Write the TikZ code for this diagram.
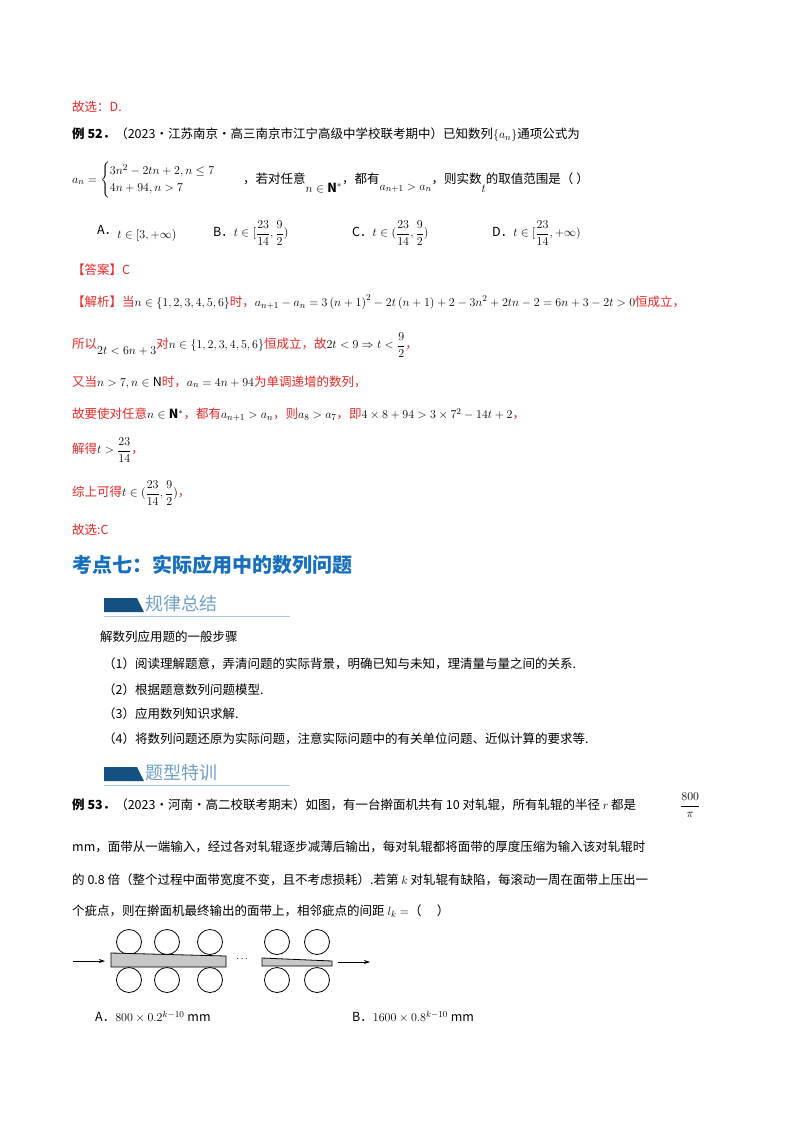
\documentclass[tikz,border=0pt]{standalone}
\usepackage{amsmath}
\usepackage{fontspec}
\usetikzlibrary{arrows.meta}
\setmainfont{Noto Sans CJK SC}
\definecolor{rd}{RGB}{232,40,40}
\definecolor{hb}{RGB}{22,110,190}
\definecolor{bd}{RGB}{20,80,130}
\definecolor{bl}{RGB}{110,160,200}
\newcommand{\R}[1]{\textcolor{rd}{#1}}
\begin{document}
\begin{tikzpicture}[x=1pt,y=-1pt,
  txt/.style={anchor=west,inner sep=0pt,font=\fontsize{12.5}{14}\selectfont},
  roll/.style={draw,line width=0.8pt},
  strip/.style={draw,fill=black!22,line width=0.8pt},
  arr/.style={-{Stealth[length=6pt,width=4pt]},line width=0.7pt}]
\useasboundingbox (0,0) rectangle (800,1132);
\fill[white] (0,0) rectangle (800,1132);
\node[txt,rd] (l1) at (72,107) {故选：D.};
\node[txt] (l2) at (72,135) {\textbf{例 52．}（2023·江苏南京·高三南京市江宁高级中学校联考期中）已知数列$\{a_n\}$通项公式为};
\node[txt] (l3) at (72,180) {$a_n=\begin{cases}3n^2-2tn+2,n\le 7\\ 4n+94,n>7\end{cases}$ \quad ，若对任意\raisebox{-9pt}{$n\in\mathbf{N}^*$}，都有\raisebox{-7pt}{$a_{n+1}>a_n$}，则实数\raisebox{-9pt}{$t$}的取值范围是（ ）};
\node[txt] (oa) at (97,233) {A．\raisebox{-4pt}{$t\in[3,+\infty)$}};
\node[txt] (ob) at (213,233) {B．$t\in[\dfrac{23}{14},\dfrac92)$};
\node[txt] (oc) at (352,233) {C．$t\in(\dfrac{23}{14},\dfrac92)$};
\node[txt] (od) at (492,233) {D．$t\in[\dfrac{23}{14},+\infty)$};
\node[txt,rd] (ans) at (72,270) {【答案】C};
\node[txt] (j1) at (72,302) {\R{【解析】当}$n\in\{1,2,3,4,5,6\}$\R{时，}$a_{n+1}-a_n=3\left(n+1\right)^2-2t\left(n+1\right)+2-3n^2+2tn-2=6n+3-2t>0$\R{恒成立，}};
\node[txt] (j2) at (72,345) {\R{所以}\raisebox{-6pt}{$2t<6n+3$}\R{对}$n\in\{1,2,3,4,5,6\}$\R{恒成立，故}$2t<9\Rightarrow t<\dfrac92$\R{，}};
\node[txt] (j3) at (72,382) {\R{又当}$n>7,n\in\mathrm{N}$\R{时，}$a_n=4n+94$\R{为单调递增的数列，}};
\node[txt] (j4) at (72,415) {\R{故要使对任意}$n\in\mathbf{N}^*$\R{，都有}$a_{n+1}>a_n$\R{，则}$a_8>a_7$\R{，即}$4\times8+94>3\times7^2-14t+2$\R{，}};
\node[txt] (j5) at (72,450) {\R{解得}$t>\dfrac{23}{14}$\R{，}};
\node[txt] (j6) at (72,493) {\R{综上可得}$t\in(\dfrac{23}{14},\dfrac92)$\R{，}};
\node[txt,rd] (j7) at (72,530) {故选:C};
\node[anchor=west,inner sep=0pt,text=hb,font=\fontsize{20}{22}\selectfont\bfseries] (hd) at (72,565) {考点七：实际应用中的数列问题};
% banner 1
\fill[bd] (104,598) -- (137,598) -- (144,612) -- (104,612) -- cycle;
\draw[bl!60,line width=1pt] (104,616) -- (290,616);
\node[anchor=west,inner sep=0pt,text=bl,font=\fontsize{18}{20}\selectfont] (b1) at (145,604) {规律总结};
\node[txt] (s0) at (100,637) {解数列应用题的一般步骤};
\node[txt] (s1) at (103,664) {（1）阅读理解题意，弄清问题的实际背景，明确已知与未知，理清量与量之间的关系.};
\node[txt] (s2) at (103,690) {（2）根据题意数列问题模型.};
\node[txt] (s3) at (103,714) {（3）应用数列知识求解.};
\node[txt] (s4) at (103,739) {（4）将数列问题还原为实际问题，注意实际问题中的有关单位问题、近似计算的要求等.};
% banner 2
\fill[bd] (104,767) -- (137,767) -- (144,781) -- (104,781) -- cycle;
\draw[bl!60,line width=1pt] (104,785) -- (290,785);
\node[anchor=west,inner sep=0pt,text=bl,font=\fontsize{18}{20}\selectfont] (b2) at (145,773) {题型特训};
\node[txt] (e1) at (72,805) {\textbf{例 53．}（2023·河南·高二校联考期末）如图，有一台擀面机共有 10 对轧辊，所有轧辊的半径 $r$ 都是};
\node[txt] (fr) at (680,805) {$\dfrac{800}{\pi}$};
\node[txt] (e2) at (72,847) {mm，面带从一端输入，经过各对轧辊逐步减薄后输出，每对轧辊都将面带的厚度压缩为输入该对轧辊时};
\node[txt] (e3) at (72,880) {的 0.8 倍（整个过程中面带宽度不变，且不考虑损耗）.若第 $k$ 对轧辊有缺陷，每滚动一周在面带上压出一};
\node[txt] (e4) at (72,911) {个疵点，则在擀面机最终输出的面带上，相邻疵点的间距 $l_k=$（\quad\ ）};
% figure
\foreach \i/\x in {1/129,2/167,3/210,4/277,5/317}{
  \node[roll,circle,minimum size=25pt,inner sep=0pt] (t\i) at (\x,942) {};
  \node[roll,circle,minimum size=25pt,inner sep=0pt] (u\i) at (\x,980) {};
}
\draw[strip] (111,953) -- (226,956) -- (226,967) -- (111,967) -- cycle;
\draw[strip] (262,958) -- (332,961) -- (332,966) -- (262,966) -- cycle;
\coordinate (ai) at (73,961); \coordinate (ae) at (105,961);
\coordinate (bi) at (338,962); \coordinate (be) at (370,962);
\draw[arr] (ai) -- (ae);
\draw[arr] (bi) -- (be);
\node[inner sep=0pt,font=\bfseries] (dots) at (243,959) {$\cdots$};
\node[txt] (fa) at (95,1017) {A．$800\times0.2^{k-10}$ mm};
\node[txt] (fb) at (352,1017) {B．$1600\times0.8^{k-10}$ mm};
\end{tikzpicture}
\end{document}
